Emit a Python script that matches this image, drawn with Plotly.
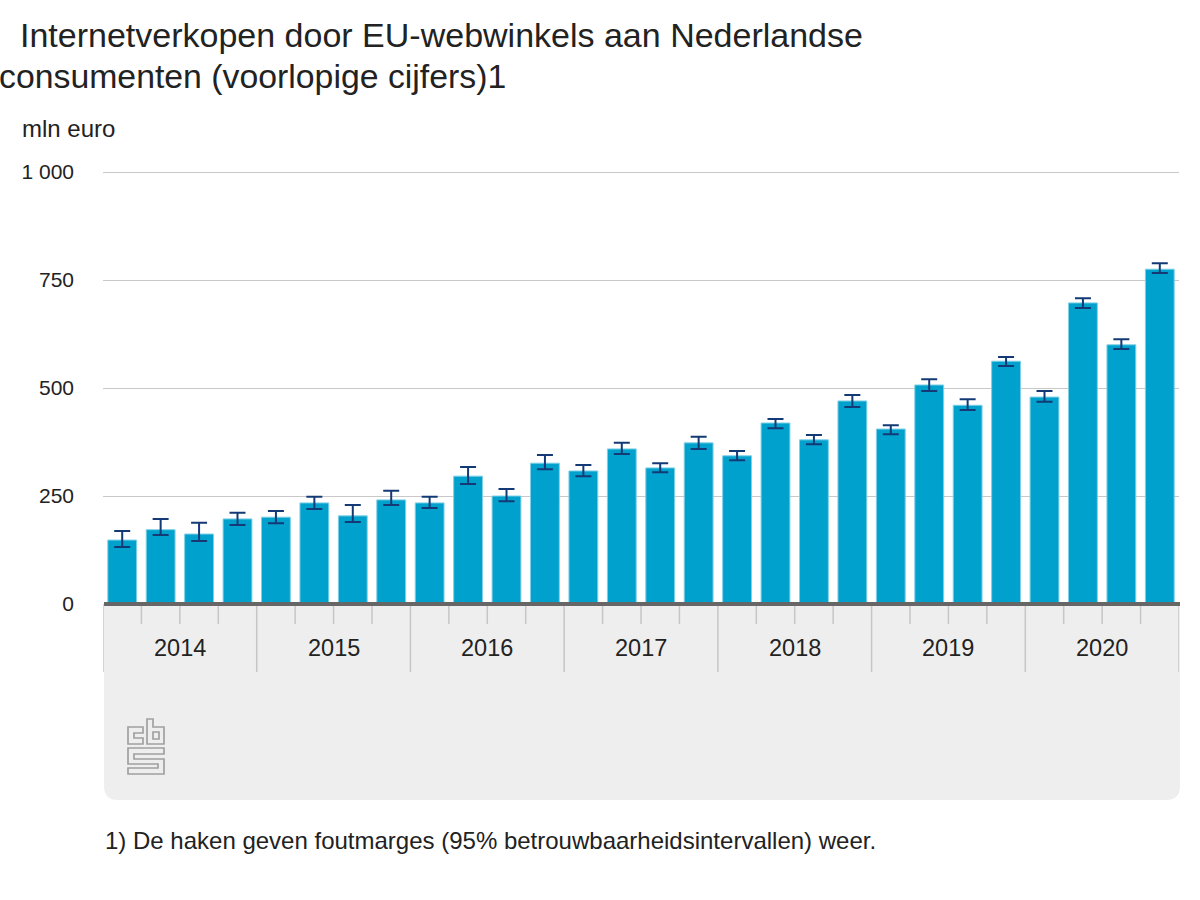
import plotly.graph_objects as go

years = ["2014", "2015", "2016", "2017", "2018", "2019", "2020"]
quarters = [f"{y} Q{q}" for y in years for q in (1, 2, 3, 4)]
values = [148, 172, 162, 197, 201, 234, 204, 241, 234, 296, 250, 326, 308, 359,
          315, 373, 343, 419, 380, 470, 405, 507, 460, 562, 479, 697, 600, 775]
upper = [169, 197, 188, 211, 215, 248, 229, 262, 248, 317, 266, 345, 322, 373,
         326, 387, 354, 428, 391, 484, 414, 520, 474, 572, 493, 708, 613, 789]
lower = [132, 160, 146, 183, 187, 220, 190, 229, 222, 278, 238, 312, 296, 347,
         305, 359, 333, 407, 370, 456, 393, 493, 449, 551, 468, 685, 590, 766]
y_ticks = [0, 250, 500, 750, 1000]
y_labels = ["0", "250", "500", "750", "1 000"]

FONT = "Liberation Sans, Arial, sans-serif"
L, R, T, B = 103, 1179, 170, 604
W, H = 1200, 900
PX_PER_UNIT = 0.432
px = lambda v: (v - L) / (R - L)
py = lambda v: (B - v) / (B - T)

fig = go.Figure(go.Bar(
    x=quarters, y=values, width=0.75,
    marker=dict(color="#00a1cd", line=dict(color="#7fd0e6", width=1)),
    error_y=dict(type="data", symmetric=False,
                 array=[u - v for u, v in zip(upper, values)],
                 arrayminus=[v - l for v, l in zip(values, lower)],
                 color="#143a75", thickness=2, width=8),
    showlegend=False, hovertemplate="%{x}: %{y} mln euro<extra></extra>",
))

shapes = []
r = 14
x0, x1, y0, y1 = px(104), px(1180), py(604), py(800)
rx, ry = r / (R - L), r / (B - T)
shapes.append(dict(type="path", xref="paper", yref="paper", layer="below",
                   fillcolor="#eeeeee", line=dict(width=0),
                   path=f"M{x0},{y0} L{x1},{y0} L{x1},{y1+ry} Q{x1},{y1} {x1-rx},{y1} "
                        f"L{x0+rx},{y1} Q{x0},{y1} {x0},{y1+ry} Z"))
for i in range(len(quarters) + 1):
    long_tick = i % 4 == 0
    shapes.append(dict(type="line", xref="x", yref="paper", x0=i - 0.5, x1=i - 0.5,
                       y0=py(604), y1=py(672 if long_tick else 624),
                       line=dict(color="#c6c6c6", width=1.5)))
shapes.append(dict(type="line", xref="paper", yref="paper", x0=px(104), x1=px(1180), y0=py(604), y1=py(604),
                   line=dict(color="#666666", width=4)))
lx, ly = 128, 718
def logo(points):
    d = " ".join(("M" if i == 0 else "L") + f"{px(lx + a)},{py(ly + b)}" for i, (a, b) in enumerate(points)) + " Z"
    shapes.append(dict(type="path", xref="paper", yref="paper", path=d,
                       line=dict(color="#a0a0a0", width=1.7)))
logo([(15, 9), (0, 9), (0, 26), (15, 26), (15, 20), (6, 20), (6, 15), (15, 15)])
logo([(19, 1), (25, 1), (25, 9), (36, 9), (36, 26), (19, 26)])
logo([(25, 14), (31, 14), (31, 21), (25, 21)])
logo([(0, 30), (36, 30), (36, 36), (6, 36), (6, 41), (36, 41), (36, 56), (0, 56),
      (0, 50), (30, 50), (30, 46), (0, 46)])

annotations = [
    dict(text="consumenten (voorlopige cijfers)1", xref="paper", yref="paper", x=px(0), y=py(76),
         xanchor="left", yanchor="middle", showarrow=False, xshift=-3,
         font=dict(size=33.8, color="#222222")),
    dict(text="mln euro", xref="paper", yref="paper", x=px(22), y=py(128), xanchor="left",
         yanchor="middle", showarrow=False, xshift=-2, font=dict(size=24, color="#222222")),
    dict(text="1) De haken geven foutmarges (95% betrouwbaarheidsintervallen) weer.",
         xref="paper", yref="paper", x=px(105), y=py(840), xanchor="left", yanchor="middle",
         showarrow=False, xshift=-2, font=dict(size=24, color="#222222")),
]
for k, y in enumerate(years):
    annotations.append(dict(text=y, xref="x", yref="paper", x=k * 4 + 1.5, y=py(648),
                            xanchor="center", yanchor="middle", showarrow=False,
                            font=dict(size=23.5, color="#222222")))

fig.update_layout(
    width=W, height=H, autosize=False,
    margin=dict(l=L, r=W - R, t=T, b=H - B),
    paper_bgcolor="white", plot_bgcolor="white",
    font=dict(family=FONT, color="#222222"),
    title=dict(text="Internetverkopen door EU-webwinkels aan Nederlandse",
               x=20 / W, xref="container", xanchor="left", yref="container", y=1 - 35 / H, yanchor="middle",
               font=dict(size=34, color="#222222")),
    xaxis=dict(type="category", categoryorder="array", categoryarray=quarters,
               range=[-0.5, 27.5], showticklabels=False, showgrid=False, ticks="", showline=False, zeroline=False),
    yaxis=dict(range=[0, (B - T) / PX_PER_UNIT], tickvals=y_ticks, ticktext=y_labels, showgrid=True, gridcolor="#c8c8c8",
               gridwidth=1, zeroline=False, showline=False, ticks="", ticklabelstandoff=28,
               tickfont=dict(size=21, color="#222222")),
    shapes=shapes, annotations=annotations, bargap=0.24,
)
fig.write_html("out.html", config=dict(displayModeBar=False), post_script="document.body.style.margin='0';")
